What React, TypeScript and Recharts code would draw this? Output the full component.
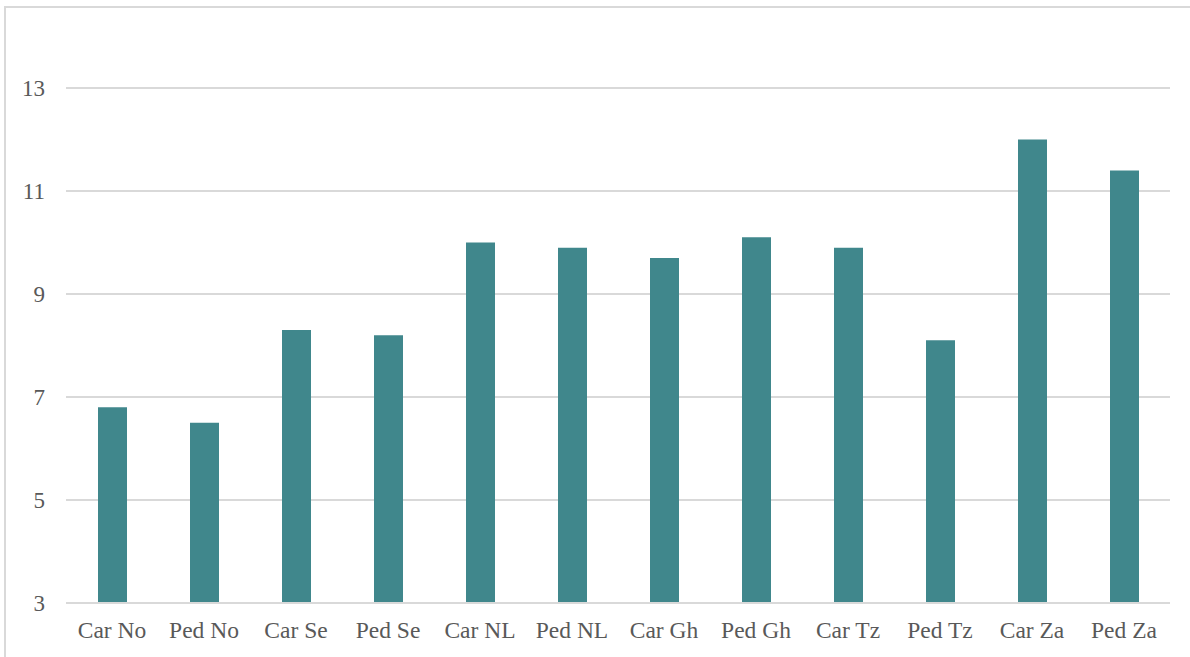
import { BarChart, Bar, XAxis, YAxis, CartesianGrid } from "recharts";

// road-user groups by country
const categories = [
  "Car No", "Ped No", "Car Se", "Ped Se", "Car NL", "Ped NL",
  "Car Gh", "Ped Gh", "Car Tz", "Ped Tz", "Car Za", "Ped Za",
];
const values = [6.8, 6.5, 8.3, 8.2, 10, 9.9, 9.7, 10.1, 9.9, 8.1, 12, 11.4];
const yTicks = [3, 5, 7, 9, 11, 13];

const rows = categories.map((name, i) => ({ name, value: values[i] }));

const FONT = "'Liberation Serif', 'DejaVu Serif', serif";
const TEXT = "#595959";
const GRID = "#d9d9d9";

export default function App() {
  return (
    <div style={{ position: "absolute", left: 0, top: 0, width: 1190, height: 657, overflow: "hidden", background: "#fff" }}>
      {/* chart frame, runs off the right and bottom edges */}
      <div
        style={{
          position: "absolute",
          left: 4,
          top: 6,
          width: 1200,
          height: 670,
          border: `2px solid ${GRID}`,
          boxSizing: "border-box",
        }}
      />
      <div style={{ position: "absolute", left: 0, top: 0 }}>
        <BarChart
          width={1190}
          height={657}
          data={rows}
          margin={{ top: 36.5, right: 20, left: 0, bottom: 0 }}
        >
          <CartesianGrid stroke={GRID} strokeWidth={2} vertical={false} horizontalValues={yTicks} />
          <XAxis
            dataKey="name"
            height={54}
            interval={0}
            tickLine={false}
            axisLine={{ stroke: GRID, strokeWidth: 2 }}
            tickMargin={12}
            tick={{ fontSize: 23.5, fill: TEXT, fontFamily: FONT }}
          />
          <YAxis
            width={66}
            domain={[3, 14]}
            ticks={yTicks}
            allowDataOverflow
            tickLine={false}
            axisLine={false}
            tickMargin={15}
            tick={{ fontSize: 23, fill: TEXT, fontFamily: FONT }}
          />
          <Bar dataKey="value" fill="#40878c" barSize={29} isAnimationActive={false} />
        </BarChart>
      </div>
    </div>
  );
}
